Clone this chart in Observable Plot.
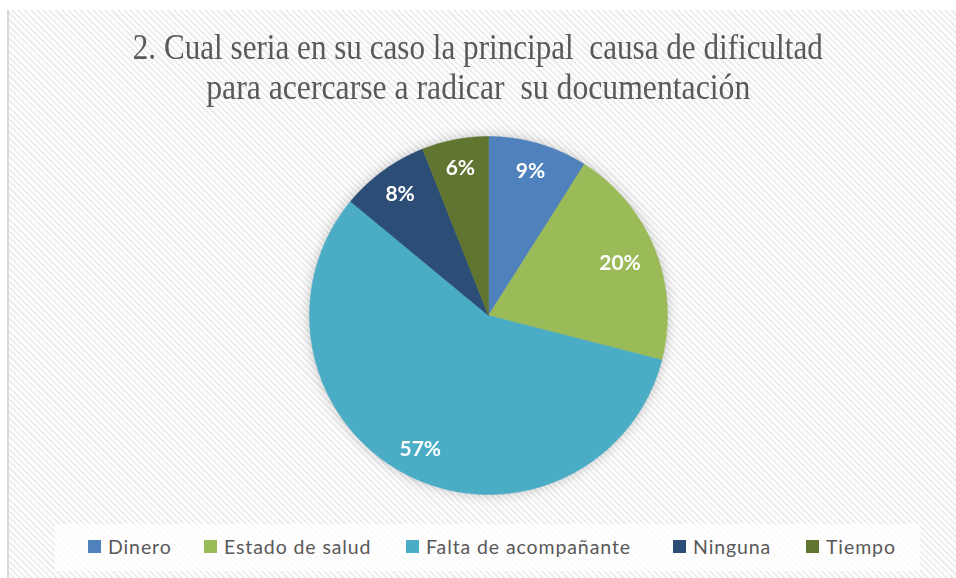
<!DOCTYPE html>
<html>
<head>
<meta charset="utf-8">
<script src="https://cdn.jsdelivr.net/npm/d3@7"></script>
<script src="https://cdn.jsdelivr.net/npm/@observablehq/plot@0.6"></script>
<style>
  html, body { margin: 0; padding: 0; background: #fff; }
  #wrap { position: relative; width: 956px; height: 578px; overflow: hidden; background: #fff; }
  #frame {
    position: absolute; left: 7px; top: 10px; right: 0; bottom: 0;
    border-left: 2px solid #d9d9d9;
    background: repeating-linear-gradient(45deg, #ffffff 0px, #ffffff 2.2px, #eeeeee 2.2px, #eeeeee 4.4px);
  }
  .title {
    position: absolute; left: 0; width: 956px; text-align: center;
    font-family: "Liberation Serif", "Times New Roman", serif; font-size: 35px;
    color: #595959; white-space: pre; line-height: 1;
  }
  .title span { display: inline-block; transform-origin: 50% 50%; }
  #plot { position: absolute; left: 0; top: 0; filter: drop-shadow(0 0 6px rgba(0,0,0,0.22)); }
  #legend {
    position: absolute; left: 55px; top: 524px; width: 865px; height: 47px;
    background: rgba(255,255,255,0.75);
  }
  .item { position: absolute; top: 11px; display: flex; align-items: center;
    font-family: Lato, "Open Sans", sans-serif; font-size: 19.5px; color: #595959; letter-spacing: 0.9px; white-space: nowrap; }
  .sw { width: 13px; height: 13px; margin-right: 7px; }
</style>
</head>
<body>
<div id="wrap">
  <div id="frame"></div>
  <div class="title" id="t1" style="top:30px"><span>2. Cual seria en su caso la principal  causa de dificultad</span></div>
  <div class="title" id="t2" style="top:70px"><span>para acercarse a radicar  su documentación</span></div>
  <div id="plotHolder"></div>
  <div id="legend"></div>
</div>
<script>
const categories = ["Dinero", "Estado de salud", "Falta de acompañante", "Ninguna", "Tiempo"];
const values = [9, 20, 57, 8, 6];
const labels = ["9%", "20%", "57%", "8%", "6%"];
const colors = ["#4f81bd", "#9bbb59", "#4bacc6", "#2c4d75", "#607530"];

// title widths
const titleWidths = {t1: 690, t2: 544};
for (const id of ["t1", "t2"]) {
  const s = document.querySelector("#" + id + " span");
  const w = s.getBoundingClientRect().width;
  s.style.transform = `scaleX(${titleWidths[id] / w})`;
}

const arcs = d3.pie().sort(null).startAngle(0).endAngle(2 * Math.PI)(values);
const poly = [];
arcs.forEach((a, i) => {
  poly.push({cat: categories[i], x: 0, y: 0});
  const n = Math.max(2, Math.ceil((a.endAngle - a.startAngle) / 0.005));
  for (let k = 0; k <= n; k++) {
    const t = a.startAngle + (a.endAngle - a.startAngle) * k / n;
    poly.push({cat: categories[i], x: Math.sin(t), y: Math.cos(t)});
  }
  poly.push({cat: categories[i], x: 0, y: 0});
});
const labelData = arcs.map((a, i) => {
  const m = (a.startAngle + a.endAngle) / 2;
  const r = values[i] >= 15 && values[i] < 40 ? 0.79 : 0.84;
  return {label: labels[i], x: r * Math.sin(m), y: r * Math.cos(m)};
});

const chart = Plot.plot({
  width: 956, height: 578, margin: 0,
  style: {background: "transparent", overflow: "visible"},
  x: {domain: [-1, 1], range: [309, 667], axis: null},
  y: {domain: [-1, 1], range: [494, 136], axis: null},
  color: {domain: categories, range: colors},
  marks: [
    Plot.line(poly, {x: "x", y: "y", z: "cat", fill: "cat", stroke: "cat", strokeWidth: 0.5, curve: "linear"}),
    Plot.text(labelData, {x: "x", y: "y", text: "label", fill: "white", fontSize: 21, fontWeight: "bold",
      fontFamily: "Lato, 'Open Sans', sans-serif"})
  ]
});
chart.id = "plot";
document.getElementById("plotHolder").appendChild(chart);

const legendX = [33, 149, 351, 618, 751];
const leg = document.getElementById("legend");
categories.forEach((c, i) => {
  const it = document.createElement("div");
  it.className = "item";
  it.style.left = legendX[i] + "px";
  const sw = document.createElement("div");
  sw.className = "sw"; sw.style.background = colors[i];
  const tx = document.createElement("span");
  tx.textContent = c;
  it.appendChild(sw); it.appendChild(tx);
  leg.appendChild(it);
});
</script>
</body>
</html>
